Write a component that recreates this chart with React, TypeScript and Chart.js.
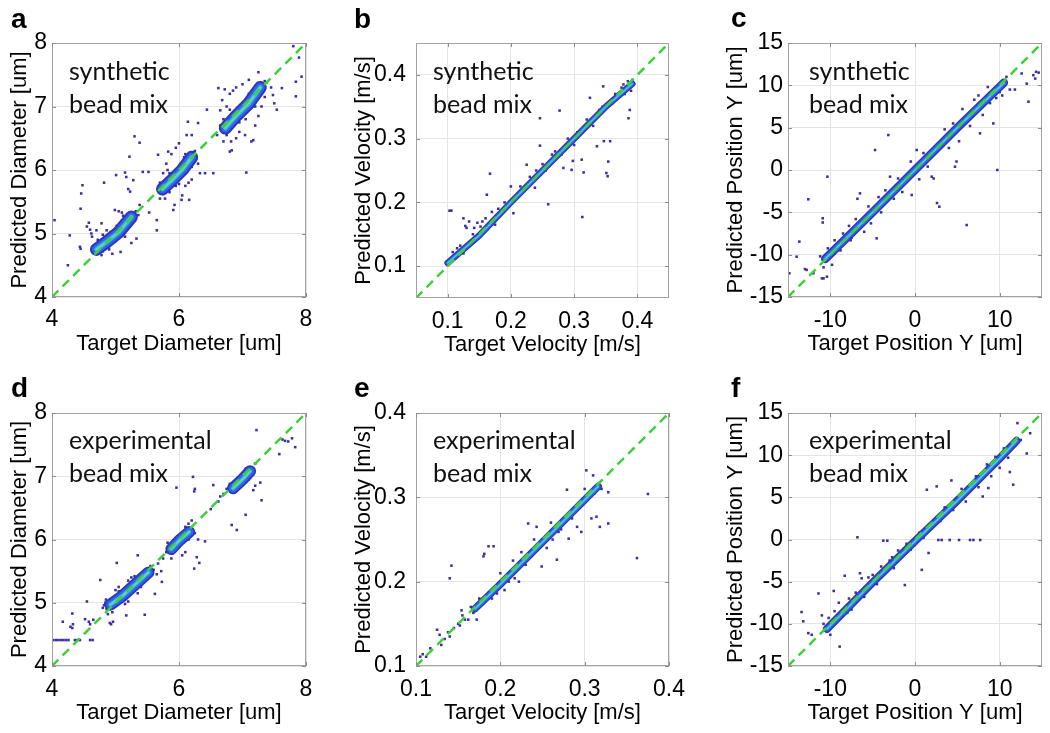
import React, { useEffect, useRef } from "react";
import { Chart, registerables } from "chart.js";

Chart.register(...registerables);

type P = [number, number];

const PAGE_W = 1050;
const PAGE_H = 733;
const FONT = '"Liberation Sans", Arial, Helvetica, sans-serif';
const NOTE_FONT = 'Lato, "Open Sans", "Noto Sans", sans-serif';

// ---------------- Panel a : synthetic diameter ----------------
const A_RANGE: P = [4, 8];
const A_X_TICKS = [4, 6, 8];
const A_Y_TICKS = [4, 5, 6, 7, 8];
const A_CORE_1: P[] = [[4.7, 4.75], [4.85, 4.86], [5.05, 5.02], [5.25, 5.26]];
const A_CORE_2: P[] = [[5.74, 5.7], [5.9, 5.85], [6.05, 6.0], [6.2, 6.2]];
const A_CORE_3: P[] = [[6.73, 6.66], [6.9, 6.85], [7.1, 7.05], [7.28, 7.3]];
const A_POINTS: P[] = [
  [4.04, 5.21], [4.28, 4.97], [4.25, 4.5], [4.44, 4.79], [4.45, 4.76], [4.48, 5.76], [4.45, 5.39], [4.46, 5.63],
  [4.58, 5.17], [4.6, 5.06], [4.62, 5.0], [4.55, 5.11], [4.63, 4.95], [4.7, 5.05], [4.78, 5.16], [4.82, 5.8],
  [4.86, 5.05], [4.99, 5.37], [5.01, 5.92], [5.1, 5.33], [5.05, 5.35], [5.12, 5.28], [5.15, 5.96], [5.17, 5.89],
  [5.2, 5.7], [5.23, 5.66], [5.22, 6.21], [5.28, 5.84], [5.3, 6.53], [5.33, 4.92], [5.36, 5.29], [5.38, 6.43],
  [5.38, 5.45], [5.43, 5.97], [5.52, 5.97], [5.53, 5.33], [5.65, 5.05], [5.65, 5.21], [5.67, 6.24], [5.08, 4.71],
  [4.95, 4.68], [4.78, 4.66], [5.25, 4.85], [4.72, 4.9], [4.9, 4.75], [5.15, 4.95], [5.2, 5.15], [4.8, 4.98],
  [4.65, 4.8], [4.7, 4.68], [4.75, 4.85], [4.8, 4.72], [4.9, 4.8], [5.0, 4.88], [5.1, 5.18], [5.18, 5.22],
  [5.3, 5.2], [5.32, 5.35], [4.92, 5.02], [5.02, 5.12],
  [5.75, 5.95], [5.8, 6.1], [5.83, 6.29], [5.88, 6.25], [5.95, 6.35], [6.0, 6.42], [5.91, 5.37], [5.93, 5.45],
  [6.04, 5.53], [6.05, 5.6], [6.16, 5.53], [6.1, 5.75], [6.15, 5.8], [6.2, 5.85], [6.17, 6.16], [6.25, 6.3],
  [6.2, 6.55], [6.12, 6.55], [6.14, 6.76], [6.3, 6.74], [6.33, 5.95], [6.41, 5.95], [6.54, 5.95], [6.3, 6.1],
  [5.7, 5.55], [5.78, 5.55], [5.85, 5.65], [6.0, 5.78], [5.82, 6.0], [6.08, 6.2], [5.7, 5.8], [5.75, 5.62],
  [5.85, 5.95], [5.95, 5.75], [6.1, 6.25], [6.2, 6.05], [6.25, 6.15], [6.05, 6.12],
  [6.44, 6.95], [6.62, 7.29], [6.72, 7.27], [6.65, 6.94], [6.68, 7.1], [6.8, 7.2], [6.85, 7.25], [6.9, 7.3],
  [7.0, 7.35], [7.1, 7.42], [6.8, 6.29], [6.82, 6.45], [6.83, 6.31], [6.9, 6.5], [6.95, 6.6], [7.04, 6.55],
  [7.06, 5.96], [7.14, 6.45], [7.17, 6.47], [7.2, 6.7], [7.25, 6.85], [7.3, 7.0], [7.35, 7.15], [7.25, 7.54],
  [7.38, 7.38], [7.48, 7.18], [7.54, 6.95], [7.5, 7.05], [7.45, 7.3], [7.62, 7.29], [7.8, 7.95], [7.89, 7.77],
  [7.93, 7.47], [7.84, 7.16], [7.84, 7.39], [6.6, 6.55], [6.7, 6.45], [6.75, 7.0], [7.05, 6.8], [7.15, 7.25],
  [6.7, 6.8], [6.75, 6.55], [6.8, 6.95], [6.95, 6.75], [7.1, 7.2], [7.2, 7.0], [7.3, 7.2], [7.35, 7.4], [6.65, 6.7],
];

// ---------------- Panel b : synthetic velocity ----------------
const B_RANGE: P = [0.05, 0.45];
const B_TICKS = [0.1, 0.2, 0.3, 0.4];
const B_CORE: P[] = [[0.1, 0.105], [0.15, 0.148], [0.2, 0.2], [0.25, 0.25], [0.3, 0.3], [0.35, 0.35], [0.392, 0.386]];
const B_POINTS: P[] = [
  [0.103, 0.187], [0.106, 0.187], [0.125, 0.175], [0.134, 0.17], [0.13, 0.16], [0.128, 0.163], [0.104, 0.11],
  [0.108, 0.122], [0.115, 0.128], [0.12, 0.132], [0.125, 0.12], [0.14, 0.15], [0.142, 0.16], [0.147, 0.168],
  [0.152, 0.162], [0.155, 0.17], [0.162, 0.212], [0.167, 0.245], [0.16, 0.175], [0.17, 0.185], [0.175, 0.165],
  [0.18, 0.19], [0.19, 0.2], [0.2, 0.225], [0.204, 0.183], [0.21, 0.21], [0.215, 0.225], [0.225, 0.259],
  [0.23, 0.24], [0.238, 0.223], [0.24, 0.25], [0.246, 0.289], [0.246, 0.332], [0.25, 0.26], [0.255, 0.25],
  [0.259, 0.197], [0.265, 0.275], [0.27, 0.28], [0.277, 0.344], [0.28, 0.275], [0.283, 0.254], [0.29, 0.3],
  [0.296, 0.251], [0.298, 0.265], [0.3, 0.29], [0.305, 0.31], [0.312, 0.267], [0.315, 0.247], [0.313, 0.177],
  [0.32, 0.33], [0.325, 0.364], [0.33, 0.32], [0.336, 0.288], [0.34, 0.345], [0.345, 0.35], [0.347, 0.296],
  [0.346, 0.382], [0.351, 0.246], [0.353, 0.241], [0.354, 0.264], [0.357, 0.296], [0.36, 0.355], [0.365, 0.37],
  [0.37, 0.365], [0.375, 0.38], [0.38, 0.37], [0.386, 0.332], [0.388, 0.345], [0.385, 0.39], [0.39, 0.375],
  [0.392, 0.392], [0.378, 0.385],
];

// ---------------- Panel c : synthetic position ----------------
const C_RANGE: P = [-15, 15];
const C_X_TICKS = [-10, 0, 10];
const C_Y_TICKS = [-15, -10, -5, 0, 5, 10, 15];
const C_CORE: P[] = [[-10.6, -10.5], [-5, -5], [0, 0], [5, 5], [10.5, 10.3]];
const C_POINTS: P[] = [
  [-14.84, -12.2], [-13.98, -10.24], [-13.66, -8.46], [-12.6, -3.46], [-13, -11.7], [-12.8, -11.8], [-12, -12.2],
  [-11, -12.8], [-10.8, -12.8], [-10.4, -12.6], [-10.9, -5.7], [-10.9, -6.2], [-10.35, -0.79], [-10.3, -9.25],
  [-10.8, -11.5], [-11.2, -10.2], [-9.5, -8.3], [-9.2, -9.5], [-9.8, -11.2], [-8.5, -7.5], [-8.8, -9.5],
  [-7.6, -8.3], [-7.5, -8.0], [-7.8, -6.6], [-7, -5.8], [-6.5, -2.76], [-6.8, -3.4], [-6, -7.3], [-5.5, -4.3],
  [-5.2, -6.3], [-4.72, 2.36], [-4.53, -8.07], [-4.3, -3.2], [-4, -5], [-3.5, -2.4], [-3.15, 4.13],
  [-2.95, -0.79], [-2.5, -3.4], [-2, -1], [-1.5, -2.6], [-0.39, -2.95], [-0.5, 1.0], [0.2, 2.36], [0.5, -1.1],
  [1, 2], [1.5, 0.4], [1.97, -0.79], [2.2, -1.0], [2.87, -4.33], [2.6, -3.9], [3.35, 2.95], [3.5, 4.8], [4, 2.6],
  [4.5, 5.5], [4.72, 0.39], [4.9, 1.0], [5.2, 3.4], [5.6, 7.2], [6.1, -6.5], [6.5, 5.2], [7, 8.3], [7.68, 4.33],
  [7.5, 8.8], [8, 6.5], [8.6, 9.8], [8.86, 7.9], [9.25, 5.5], [9.72, 0], [9.6, 8.5], [10, 9.2], [10.3, 8.8],
  [10.8, 11.0], [11.2, 9.5], [11.8, 9.5], [12.6, 11.4], [13.2, 10.2], [13.4, 8.07], [13.98, 11.2], [14.3, 11.6],
  [14.6, 11.5], [14.2, 10.8],
];

// ---------------- Panel d : experimental diameter ----------------
const D_RANGE: P = [4, 8];
const D_X_TICKS = [4, 6, 8];
const D_Y_TICKS = [4, 5, 6, 7, 8];
const D_CORE_1: P[] = [[4.92, 4.97], [5.1, 5.1], [5.3, 5.28], [5.52, 5.48]];
const D_CORE_2: P[] = [[5.88, 5.85], [6.0, 5.98], [6.16, 6.12]];
const D_CORE_3: P[] = [[6.85, 6.81], [7.0, 6.95], [7.12, 7.08]];
const D_POINTS: P[] = [
  [4.02, 4.41], [4.06, 4.41], [4.1, 4.41], [4.14, 4.41], [4.18, 4.41], [4.22, 4.41], [4.26, 4.41], [4.36, 4.41],
  [4.4, 4.41], [4.44, 4.41], [4.6, 4.41], [4.64, 4.41], [4.17, 4.7], [4.32, 4.83], [4.29, 4.62], [4.32, 4.6],
  [4.33, 4.66], [4.55, 5.02], [4.58, 4.7], [4.6, 4.66], [4.52, 4.74], [4.65, 4.73], [4.76, 5.36], [4.8, 4.92],
  [4.82, 4.96], [4.84, 5.0], [4.86, 4.9], [4.88, 4.82], [4.91, 4.68], [4.93, 4.66], [4.96, 4.7], [5.02, 5.63],
  [5.05, 5.18], [5.0, 5.2], [5.17, 4.8], [5.2, 5.02], [5.35, 5.75], [5.4, 5.45], [5.45, 5.5], [5.46, 4.81],
  [5.5, 5.4], [5.55, 5.58], [5.6, 5.52], [5.62, 5.14], [5.65, 5.45], [5.67, 5.62], [5.73, 5.33], [5.72, 5.5],
  [4.85, 5.05], [4.95, 4.85], [5.05, 5.25], [5.15, 4.98], [5.25, 5.4], [5.35, 5.15], [5.45, 5.35], [5.55, 5.45],
  [5.2, 5.35], [5.3, 5.42], [5.4, 5.25],
  [5.75, 5.7], [5.8, 5.8], [5.85, 5.92], [5.88, 5.7], [5.96, 6.82], [6.05, 5.75], [6.1, 5.8], [6.15, 6.25],
  [6.2, 6.3], [6.22, 6.99], [6.24, 6.76], [6.25, 6.8], [6.24, 5.54], [6.28, 5.72], [6.32, 5.63], [6.25, 6.1],
  [6.3, 6.0], [6.41, 5.97], [5.82, 5.95], [5.9, 5.78], [6.1, 6.2], [6.15, 6.0], [6.22, 6.1],
  [6.5, 6.48], [6.54, 6.86], [6.62, 6.6], [6.65, 6.68], [6.7, 6.72], [6.75, 6.8],
  [6.83, 6.23], [6.91, 6.15], [7.05, 6.39], [7.1, 6.95], [7.15, 7.05], [7.17, 6.78], [7.2, 6.85], [7.22, 7.73],
  [7.2, 7.2], [7.3, 6.62], [7.28, 6.9], [7.58, 7.35], [7.63, 7.58], [7.67, 7.56], [7.72, 7.55], [7.78, 7.6],
  [7.83, 7.46], [6.8, 6.88], [6.9, 6.78], [7.05, 7.12], [7.12, 6.98],
];

// ---------------- Panel e : experimental velocity ----------------
const E_RANGE: P = [0.1, 0.4];
const E_TICKS = [0.1, 0.2, 0.3, 0.4];
const E_CORE: P[] = [[0.17, 0.168], [0.2, 0.197], [0.25, 0.247], [0.3, 0.297], [0.316, 0.313]];
const E_POINTS: P[] = [
  [0.105, 0.111], [0.108, 0.114], [0.112, 0.111], [0.117, 0.121], [0.125, 0.143], [0.128, 0.137], [0.13, 0.125],
  [0.134, 0.132], [0.138, 0.14], [0.14, 0.204], [0.142, 0.219], [0.14, 0.135], [0.145, 0.145], [0.15, 0.15],
  [0.152, 0.148], [0.154, 0.166], [0.155, 0.16], [0.158, 0.155], [0.162, 0.155], [0.165, 0.17], [0.168, 0.163],
  [0.172, 0.155], [0.175, 0.18], [0.18, 0.23], [0.181, 0.233], [0.186, 0.242], [0.192, 0.242], [0.19, 0.18],
  [0.196, 0.186], [0.2, 0.21], [0.205, 0.19], [0.21, 0.2], [0.215, 0.225], [0.217, 0.204], [0.222, 0.2],
  [0.225, 0.235], [0.23, 0.22], [0.233, 0.269], [0.24, 0.25], [0.243, 0.265], [0.249, 0.218], [0.255, 0.24],
  [0.26, 0.27], [0.262, 0.25], [0.267, 0.226], [0.269, 0.259], [0.272, 0.262], [0.279, 0.309], [0.281, 0.251],
  [0.285, 0.275], [0.291, 0.265], [0.295, 0.29], [0.296, 0.259], [0.3, 0.31], [0.302, 0.332], [0.305, 0.3],
  [0.308, 0.275], [0.31, 0.326], [0.314, 0.277], [0.318, 0.265], [0.312, 0.305], [0.32, 0.31], [0.328, 0.306],
  [0.328, 0.269], [0.362, 0.228], [0.375, 0.304],
];

// ---------------- Panel f : experimental position ----------------
const F_RANGE: P = [-15, 15];
const F_X_TICKS = [-10, 0, 10];
const F_Y_TICKS = [-15, -10, -5, 0, 5, 10, 15];
const F_CORE: P[] = [[-10.4, -10.6], [-5, -5.1], [0, -0.2], [5, 4.6], [10, 9.6], [12, 11.7]];
const F_POINTS: P[] = [
  [-13.4, -8.6], [-13.2, -9.7], [-12.6, -11.1], [-12.2, -11.3], [-11.4, -6.4], [-11, -9], [-10.8, -10],
  [-10.2, -9.3], [-10, -11.3], [-9.6, -6.1], [-9.5, -8.5], [-8.9, -12.7], [-9, -7.5], [-8.5, -8.8], [-8.3, -4.3],
  [-7.8, -7], [-7.5, -8.3], [-7, -6.3], [-6.8, 0.26], [-6.5, -4.0], [-6.3, -4.6], [-6, -6.8], [-5.5, -4.5],
  [-5, -4.2], [-4.5, -5.3], [-4, -3.2], [-3.74, -0.14], [-3.27, -0.14], [-3, -2.5], [-2.5, -3.4], [-2, -1.3],
  [-1.2, -5.4], [-1, -0.5], [-0.5, -1.2], [0.5, 0.8], [0.8, -3.6], [1, 0.2], [1.4, 5.9], [1.6, -1.6], [2, 1.5],
  [2.56, 6.3], [2.76, -0.06], [3.15, -0.06], [3, 2.2], [3.5, 3.8], [4.1, -0.06], [4.3, 7.0], [4.5, 3.5],
  [5.2, -0.06], [5.5, 6], [6, 4.5], [6.5, -0.06], [6.9, -0.06], [7.2, 7.5], [7.7, -0.06], [7.5, 6.2], [8, 5.1],
  [8.66, 6.1], [8.5, 8.9], [9, 7.5], [9.5, 9.8], [10, 8.5], [10.5, 10.8], [11, 9.7], [11.2, 8.0], [11.6, 6.5],
  [11.5, 11.5], [12.1, 13.8], [12.5, 11.8], [13.2, 10.2], [13.6, 12.6], [-2.7, -2.1], [-8, -8.7],
];

const SYNTH_NOTE = ["synthetic", "bead mix"];
const EXP_NOTE = ["experimental", "bead mix"];

// ---------------- styling ----------------
const CORE_COLORS = ["rgb(52,50,186)", "rgb(40,104,234)", "rgb(64,180,222)", "rgb(112,216,168)"];
const POINT_COLOR = "rgb(58,46,162)";
const DIAG_COLOR = "rgb(62,208,58)";
const GRID_COLOR = "#e4e4e4";
const BOX_COLOR = "#a2a2a2";
const X_AXIS_H = 62;

interface PanelSpec {
  id: string;
  letter: string;
  letterX: number;
  letterY: number;
  plot: [number, number, number, number];
  range: P;
  xTicks: number[];
  yTicks: number[];
  xTitle: string;
  yTitle: string;
  yAxisW: number;
  yTickPad: number;
  yTitlePad: number;
  xTickPad: number;
  cores: P[][];
  coreWidths: number[];
  points: P[];
  note: string[];
  noteDx: number;
  noteDy: number;
}

const PANELS: PanelSpec[] = [
  {
    id: "a", letter: "a", letterX: 11, letterY: 28, plot: [52, 43, 306, 297], range: A_RANGE,
    xTicks: A_X_TICKS, yTicks: A_Y_TICKS, xTitle: "Target Diameter [um]", yTitle: "Predicted Diameter [um]",
    yAxisW: 52, yTickPad: 5, yTitlePad: 7, xTickPad: 9,
    cores: [A_CORE_1, A_CORE_2, A_CORE_3], coreWidths: [13, 9, 4.5, 1.6], points: A_POINTS,
    note: SYNTH_NOTE, noteDx: 17, noteDy: 37,
  },
  {
    id: "b", letter: "b", letterX: 354, letterY: 28, plot: [416, 43, 669, 298], range: B_RANGE,
    xTicks: B_TICKS, yTicks: B_TICKS, xTitle: "Target Velocity [m/s]", yTitle: "Predicted Velocity [m/s]",
    yAxisW: 66, yTickPad: 10, yTitlePad: 1, xTickPad: 10,
    cores: [B_CORE], coreWidths: [6.5, 4, 1.8, 0.7], points: B_POINTS,
    note: SYNTH_NOTE, noteDx: 17, noteDy: 37,
  },
  {
    id: "c", letter: "c", letterX: 731, letterY: 27, plot: [788, 43, 1042, 297], range: C_RANGE,
    xTicks: C_X_TICKS, yTicks: C_Y_TICKS, xTitle: "Target Position Y [um]", yTitle: "Predicted Position Y [um]",
    yAxisW: 66, yTickPad: 5, yTitlePad: 1, xTickPad: 10,
    cores: [C_CORE], coreWidths: [8.5, 5.5, 2.4, 0.9], points: C_POINTS,
    note: SYNTH_NOTE, noteDx: 21, noteDy: 37,
  },
  {
    id: "d", letter: "d", letterX: 11, letterY: 397, plot: [52, 413, 306, 666], range: D_RANGE,
    xTicks: D_X_TICKS, yTicks: D_Y_TICKS, xTitle: "Target Diameter [um]", yTitle: "Predicted Diameter [um]",
    yAxisW: 52, yTickPad: 5, yTitlePad: 7, xTickPad: 10,
    cores: [D_CORE_1, D_CORE_2, D_CORE_3], coreWidths: [12, 8.5, 4, 1.5], points: D_POINTS,
    note: EXP_NOTE, noteDx: 17, noteDy: 36,
  },
  {
    id: "e", letter: "e", letterX: 354, letterY: 397, plot: [416, 413, 669, 666], range: E_RANGE,
    xTicks: E_TICKS, yTicks: E_TICKS, xTitle: "Target Velocity [m/s]", yTitle: "Predicted Velocity [m/s]",
    yAxisW: 66, yTickPad: 10, yTitlePad: 1, xTickPad: 10,
    cores: [E_CORE], coreWidths: [7.5, 5, 2.2, 0.9], points: E_POINTS,
    note: EXP_NOTE, noteDx: 17, noteDy: 36,
  },
  {
    id: "f", letter: "f", letterX: 731, letterY: 397, plot: [788, 413, 1042, 666], range: F_RANGE,
    xTicks: F_X_TICKS, yTicks: F_Y_TICKS, xTitle: "Target Position Y [um]", yTitle: "Predicted Position Y [um]",
    yAxisW: 66, yTickPad: 5, yTitlePad: 1, xTickPad: 10,
    cores: [F_CORE], coreWidths: [8, 5, 2.2, 0.9], points: F_POINTS,
    note: EXP_NOTE, noteDx: 21, noteDy: 36,
  },
];

const fmt = (v: any) => {
  const n = Number(v);
  if (n !== 0 && Math.abs(n) < 1) return n.toFixed(1);
  return String(Math.round(n));
};

const decorPlugin = {
  id: "panelDecor",
  afterDatasetsDraw(chart: any, _args: any, opts: any) {
    const { ctx, chartArea: a, scales } = chart;
    ctx.save();
    ctx.fillStyle = "#111";
    ctx.font = `${opts.noteSize}px ${NOTE_FONT}`;
    ctx.textAlign = "left";
    ctx.textBaseline = "alphabetic";
    (opts.note as string[]).forEach((line, i) => {
      ctx.fillText(line, a.left + opts.noteDx, a.top + opts.noteDy + i * opts.noteGap);
    });
    ctx.strokeStyle = BOX_COLOR;
    ctx.lineWidth = 1;
    ctx.strokeRect(a.left + 0.5, a.top + 0.5, a.right - a.left - 1, a.bottom - a.top - 1);
    ctx.strokeStyle = "#8c8c8c";
    const L = 4;
    ctx.beginPath();
    scales.x.ticks.forEach((t: any) => {
      const px = Math.round(scales.x.getPixelForValue(t.value)) + 0.5;
      ctx.moveTo(px, a.bottom);
      ctx.lineTo(px, a.bottom - L);
      ctx.moveTo(px, a.top);
      ctx.lineTo(px, a.top + L);
    });
    scales.y.ticks.forEach((t: any) => {
      const py = Math.round(scales.y.getPixelForValue(t.value)) + 0.5;
      ctx.moveTo(a.left, py);
      ctx.lineTo(a.left + L, py);
      ctx.moveTo(a.right, py);
      ctx.lineTo(a.right - L, py);
    });
    ctx.stroke();
    ctx.fillStyle = "#000";
    ctx.font = `bold 28px ${FONT}`;
    ctx.fillText(opts.letter, opts.letterX, opts.letterY);
    ctx.restore();
  },
};

function buildConfig(s: PanelSpec): any {
  const [l, t, r, b] = s.plot;
  const toXY = (arr: P[]) => arr.map(([x, y]) => ({ x, y }));
  const datasets: any[] = [];
  datasets.push({
    label: "y = x",
    data: toXY([[s.range[0], s.range[0]], [s.range[1], s.range[1]]]),
    showLine: true,
    borderColor: DIAG_COLOR,
    borderWidth: 2.5,
    borderDash: [9, 6],
    pointRadius: 0,
    order: 0,
  });
  s.cores.forEach((core, ci) => {
    CORE_COLORS.forEach((c, li) => {
      datasets.push({
        label: `core ${ci}-${li}`,
        data: toXY(core),
        showLine: true,
        borderColor: c,
        borderWidth: s.coreWidths[li],
        borderCapStyle: "round",
        borderJoinStyle: "round",
        pointRadius: 0,
        order: 5 - li,
      });
    });
  });
  datasets.push({
    label: "samples",
    data: toXY(s.points),
    pointStyle: "rect",
    pointRadius: 1.8,
    backgroundColor: POINT_COLOR,
    borderWidth: 0,
    order: 7,
  });

  const tickFont = { family: FONT, size: 23 };
  const titleFont = { family: FONT, size: 22 };

  return {
    type: "scatter",
    data: { datasets },
    plugins: [decorPlugin],
    options: {
      responsive: false,
      animation: false,
      devicePixelRatio: 1,
      events: [],
      layout: {
        padding: {
          left: l - s.yAxisW,
          top: t,
          right: PAGE_W - r,
          bottom: PAGE_H - b - X_AXIS_H,
        },
      },
      scales: {
        x: {
          type: "linear",
          min: s.range[0],
          max: s.range[1],
          afterBuildTicks: (sc: any) => {
            sc.ticks = s.xTicks.map((v) => ({ value: v }));
          },
          afterFit: (sc: any) => {
            sc.height = X_AXIS_H;
          },
          grid: { color: GRID_COLOR, lineWidth: 1, drawTicks: false },
          border: { display: false },
          ticks: {
            padding: s.xTickPad,
            color: "#000",
            font: tickFont,
            maxRotation: 0,
            autoSkip: false,
            callback: fmt,
          },
          title: {
            display: true,
            text: s.xTitle,
            color: "#000",
            font: titleFont,
            padding: { top: 0, bottom: 2 },
          },
        },
        y: {
          type: "linear",
          min: s.range[0],
          max: s.range[1],
          afterBuildTicks: (sc: any) => {
            sc.ticks = s.yTicks.map((v) => ({ value: v }));
          },
          afterFit: (sc: any) => {
            sc.width = s.yAxisW;
          },
          grid: { color: GRID_COLOR, lineWidth: 1, drawTicks: false },
          border: { display: false },
          ticks: {
            padding: s.yTickPad,
            color: "#000",
            font: tickFont,
            autoSkip: false,
            callback: fmt,
          },
          title: {
            display: true,
            text: s.yTitle,
            color: "#000",
            font: titleFont,
            padding: { top: s.yTitlePad, bottom: 0 },
          },
        },
      },
      plugins: {
        legend: { display: false },
        tooltip: { enabled: false },
        title: { display: false },
        panelDecor: {
          letter: s.letter,
          letterX: s.letterX,
          letterY: s.letterY,
          note: s.note,
          noteDx: s.noteDx,
          noteDy: s.noteDy,
          noteGap: 33,
          noteSize: 25,
        },
      },
    },
  };
}

function Panel({ spec }: { spec: PanelSpec }) {
  const ref = useRef<HTMLCanvasElement | null>(null);
  useEffect(() => {
    if (!ref.current) return;
    const chart = new Chart(ref.current, buildConfig(spec));
    return () => chart.destroy();
  }, [spec]);
  return (
    <canvas
      ref={ref}
      width={PAGE_W}
      height={PAGE_H}
      style={{ position: "absolute", left: 0, top: 0, width: PAGE_W, height: PAGE_H }}
    />
  );
}

export default function App() {
  return (
    <div style={{ position: "absolute", left: 0, top: 0, width: PAGE_W, height: PAGE_H, background: "#fff", overflow: "hidden" }}>
      {PANELS.map((p) => (
        <Panel key={p.id} spec={p} />
      ))}
    </div>
  );
}
